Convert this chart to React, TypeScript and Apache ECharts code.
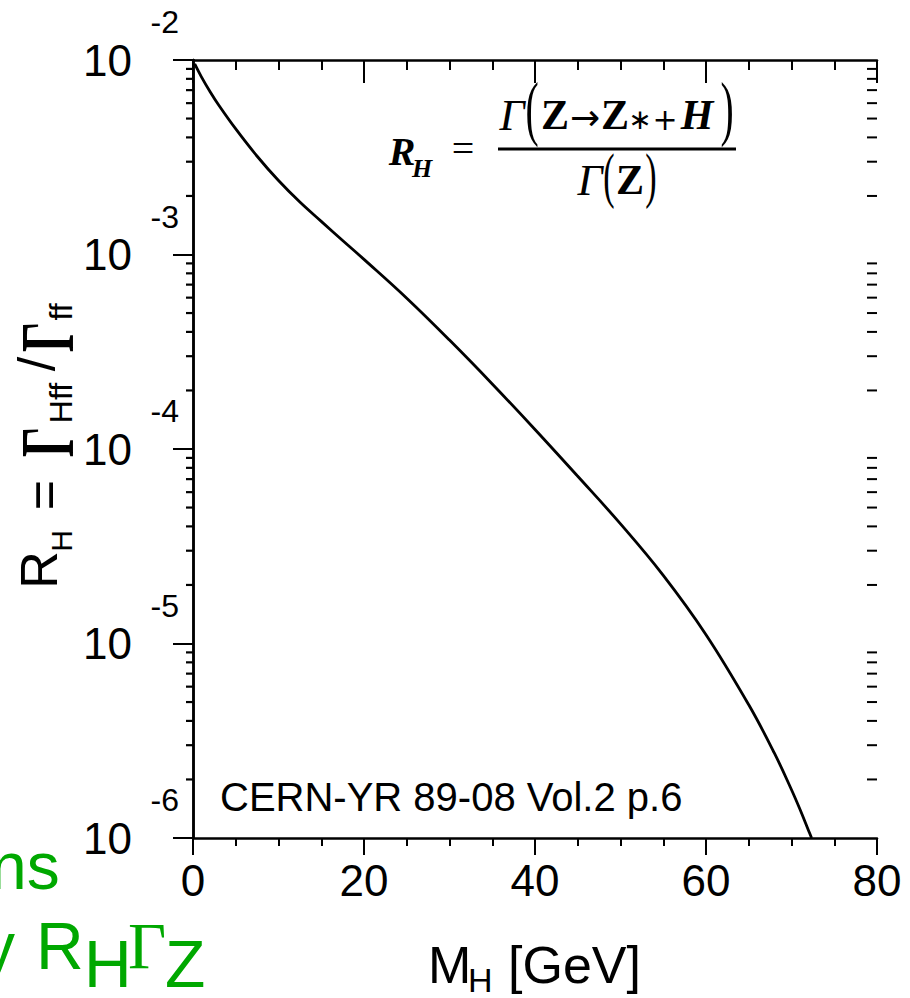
import React, { useEffect, useRef } from 'react';
import * as echarts from 'echarts';

// ---- data ----
const massGeV = [0.2, 1, 2, 3, 5, 7.5, 10, 12.5, 15, 17.5, 20, 25, 30, 35, 40, 45, 50, 55, 60, 65, 68, 70, 71, 72, 72.35];
const ratioRH = [
  9.55e-3, 8.17e-3, 6.87e-3, 5.87e-3, 4.42e-3, 3.2e-3, 2.4e-3, 1.86e-3, 1.48e-3, 1.18e-3, 9.44e-4, 5.96e-4,
  3.63e-4, 2.16e-4, 1.26e-4, 7.24e-5, 4.12e-5, 2.24e-5, 1.11e-5, 4.84e-6, 2.73e-6, 1.77e-6, 1.4e-6, 1.09e-6,
  1.0e-6,
];
const xMin = 0;
const xMax = 80;
const xMajorStep = 20;
const xMinorSplit = 4;
const yMin = 1e-6;
const yMax = 1e-2;
const decadeExponents = [-6, -5, -4, -3];
const logMinorMultipliers = [2, 3, 4, 5, 6, 7, 8, 9];

const SANS = '"Liberation Sans", Arial, Helvetica, sans-serif';
const SERIF = '"Liberation Serif", "Times New Roman", "DejaVu Serif", serif';
const DJ = '"DejaVu Sans", sans-serif';
const GREEN = '#00a800';

type TxtOpts = {
  family?: string;
  style?: string;
  weight?: string;
  fill?: string;
  align?: string;
  valign?: string;
  scaleX?: number;
  scaleY?: number;
};

function txt(text: string, x: number, y: number, fontSize: number, o: TxtOpts = {}) {
  const el: any = {
    type: 'text',
    x,
    y,
    silent: true,
    style: {
      text,
      fontSize,
      fontFamily: o.family || SANS,
      fontStyle: o.style || 'normal',
      fontWeight: o.weight || 'normal',
      fill: o.fill || '#000',
      align: o.align || 'center',
      verticalAlign: o.valign || 'middle',
      textAlign: o.align || 'center',
      textVerticalAlign: o.valign || 'middle',
    },
  };
  if (o.scaleX !== undefined) el.scaleX = o.scaleX;
  if (o.scaleY !== undefined) el.scaleY = o.scaleY;
  return el;
}

export default function App() {
  const ref = useRef<HTMLDivElement>(null);

  useEffect(() => {
    if (!ref.current) return;
    const chart = echarts.init(ref.current, null, { renderer: 'svg' });

    const minorValues: number[] = [];
    decadeExponents.forEach((e) => logMinorMultipliers.forEach((m) => minorValues.push(m * Math.pow(10, e))));

    const gridBox = { left: 193, right: 33, top: 60, bottom: 160, containLabel: false, outerBoundsMode: 'none' };
    const axisLine = { show: true, lineStyle: { color: '#000', width: 2.5 } };
    const tickStyle = { color: '#000', width: 2 };
    const hiddenX = (g: number) => ({ gridIndex: g, type: 'value', min: xMin, max: xMax, show: false });

    const BI = { family: SERIF, style: 'italic', weight: 'bold' };
    const B = { family: SERIF, weight: 'bold' };
    const PAREN = { family: SERIF, scaleX: 0.55 };

    const formula = [
      txt('R', 402, 151, 40, BI),
      txt('H', 422, 168, 26, BI),
      txt('=', 463, 148, 40, { family: SERIF }),
      { type: 'line', silent: true, shape: { x1: 498, y1: 149, x2: 736, y2: 149 }, style: { stroke: '#000', lineWidth: 3 } },
      txt('Γ', 512, 115, 44, { family: SERIF, style: 'italic' }),
      txt('(', 532, 108, 72, PAREN),
      txt('Z', 555, 115, 42, B),
      txt('→', 585, 117, 36, { family: DJ }),
      txt('Z', 615, 115, 42, B),
      txt('∗', 640, 119, 28, { family: DJ }),
      txt('+', 665, 119, 30, { family: DJ }),
      txt('H', 697, 115, 42, BI),
      txt(')', 727, 108, 72, PAREN),
      txt('Γ', 590, 180, 44, { family: SERIF, style: 'italic' }),
      txt('(', 609, 175, 62, PAREN),
      txt('Z', 630, 180, 42, B),
      txt(')', 651, 175, 62, PAREN),
    ];

    const yTitle = {
      type: 'group',
      x: 0,
      y: 0,
      rotation: Math.PI / 2,
      children: [
        txt('R', -570, 38.8, 52),
        txt('H', -541, 61, 30),
        txt('=', -495, 44, 52),
        txt('Γ', -442, 47.5, 76, { family: SERIF, weight: 'bold', scaleX: 0.62 }),
        txt('Hff', -403, 61, 32),
        txt('/', -364, 36.5, 52),
        txt('Γ', -337, 47.5, 76, { family: SERIF, weight: 'bold', scaleX: 0.62 }),
        txt('ff', -312, 61, 32),
      ],
    };

    const xTitle = [
      txt('M', 428, 965, 52, { align: 'left' }),
      txt('H', 468, 980, 34, { align: 'left' }),
      txt('[GeV]', 508, 965, 52, { align: 'left' }),
    ];

    const green = [
      txt('ns', -10, 866, 66, { align: 'left', fill: GREEN }),
      txt('y', -18, 946, 66, { align: 'left', fill: GREEN }),
      txt('R', 36, 946, 66, { align: 'left', fill: GREEN }),
      txt('H', 84, 964, 66, { align: 'left', fill: GREEN }),
      txt('Γ', 128, 945, 66, { align: 'left', fill: GREEN, family: SERIF }),
      txt('Z', 165, 964, 66, { align: 'left', fill: GREEN }),
    ];

    const baseGraphic = [
      ...formula,
      txt('CERN-YR 89-08 Vol.2 p.6', 220, 797, 40, { align: 'left' }),
      yTitle,
      ...xTitle,
      ...green,
    ];

    const option: any = {
      animation: false,
      backgroundColor: '#fff',
      grid: [0, 1, 2].map(() => ({ ...gridBox })),
      xAxis: [
        {
          gridIndex: 0,
          type: 'value',
          position: 'bottom',
          min: xMin,
          max: xMax,
          interval: xMajorStep,
          axisLine,
          axisTick: { show: true, inside: false, length: 17, lineStyle: tickStyle },
          minorTick: { show: true, splitNumber: xMinorSplit, length: 8, lineStyle: tickStyle },
          splitLine: { show: false },
          minorSplitLine: { show: false },
          axisLabel: { show: true, margin: 20, fontSize: 44, fontFamily: SANS, color: '#000', showMinLabel: true, showMaxLabel: true },
        },
        {
          gridIndex: 1,
          type: 'value',
          position: 'top',
          min: xMin,
          max: xMax,
          interval: xMajorStep,
          axisLine,
          axisTick: { show: true, inside: true, length: 23, lineStyle: tickStyle },
          minorTick: { show: true, splitNumber: xMinorSplit, length: 10, lineStyle: tickStyle },
          splitLine: { show: false },
          minorSplitLine: { show: false },
          axisLabel: { show: false },
        },
        hiddenX(2),
      ],
      yAxis: [
        {
          gridIndex: 0,
          type: 'log',
          logBase: 10,
          position: 'left',
          min: yMin,
          max: yMax,
          axisLine,
          axisTick: { show: true, inside: false, length: 13, lineStyle: tickStyle },
          splitLine: { show: false },
          axisLabel: {
            show: true,
            margin: 61,
            fontSize: 44,
            fontFamily: SANS,
            color: '#000',
            showMinLabel: true,
            showMaxLabel: true,
            formatter: () => '10',
          },
        },
        {
          gridIndex: 1,
          type: 'log',
          logBase: 10,
          position: 'right',
          min: yMin,
          max: yMax,
          axisLine,
          axisTick: { show: true, inside: true, length: 20, lineStyle: tickStyle },
          splitLine: { show: false },
          axisLabel: { show: false },
        },
        {
          gridIndex: 2,
          type: 'log',
          logBase: 10,
          position: 'left',
          min: yMin,
          max: yMax,
          axisLine: { show: false },
          axisTick: { show: false },
          splitLine: { show: false },
          axisLabel: {
            show: true,
            margin: 14,
            fontSize: 32,
            fontFamily: SANS,
            color: '#000',
            showMinLabel: true,
            showMaxLabel: true,
            verticalAlign: 'bottom',
            lineHeight: 76,
            formatter: (v: number) => String(Math.round(Math.log10(v))),
          },
        },
      ],
      series: [
        {
          type: 'line',
          xAxisIndex: 0,
          yAxisIndex: 0,
          data: massGeV.map((m, i) => [m, ratioRH[i]]),
          showSymbol: false,
          symbol: 'none',
          smooth: 0.4,
          lineStyle: { color: '#000', width: 2.8 },
          clip: true,
        },
      ],
      graphic: baseGraphic,
    };

    chart.setOption(option);

    // log-scale minor ticks on the left (outward) and right (inward) frames,
    // positioned through the chart's own log axis
    const xL = chart.convertToPixel({ xAxisIndex: 0 }, xMin) as number;
    const xR = chart.convertToPixel({ xAxisIndex: 0 }, xMax) as number;
    const tickEls: any[] = [];
    minorValues.forEach((v) => {
      const y = chart.convertToPixel({ yAxisIndex: 0 }, v) as number;
      tickEls.push({ type: 'line', z: 100, silent: true, shape: { x1: xL - 7, y1: y, x2: xL, y2: y }, style: { stroke: '#000', lineWidth: 2.2 } });
      tickEls.push({ type: 'line', z: 100, silent: true, shape: { x1: xR - 10, y1: y, x2: xR, y2: y }, style: { stroke: '#000', lineWidth: 2 } });
    });
    chart.setOption({ graphic: [...baseGraphic, ...tickEls] });

    return () => chart.dispose();
  }, []);

  return <div ref={ref} style={{ position: 'absolute', left: 0, top: 0, width: 910, height: 998 }} />;
}
